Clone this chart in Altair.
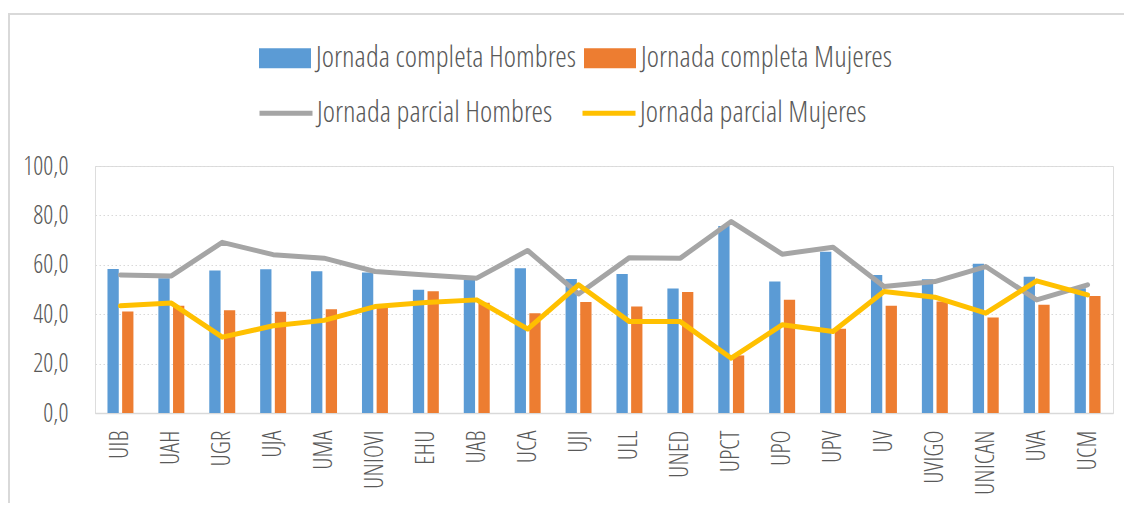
import altair as alt
import pandas as pd

universidades = ["UIB", "UAH", "UGR", "UJA", "UMA", "UNIOVI", "EHU", "UAB", "UCA", "UJI",
                 "ULL", "UNED", "UPCT", "UPO", "UPV", "UV", "UVIGO", "UNICAN", "UVA", "UCM"]
completa_hombres = [58.3, 54.6, 57.7, 58.2, 57.4, 56.9, 49.9, 53.9, 58.6, 54.3,
                    56.3, 50.4, 75.7, 53.2, 65.3, 55.9, 54.2, 60.4, 55.2, 50.5]
completa_mujeres = [41.1, 43.4, 41.6, 41.0, 42.0, 42.5, 49.3, 44.6, 40.4, 44.9,
                    43.1, 49.0, 23.3, 45.9, 34.1, 43.4, 45.1, 38.7, 43.8, 47.4]
parcial_hombres = [55.9, 55.5, 69.1, 64.1, 62.7, 57.3, 55.9, 54.6, 65.8, 48.2,
                   62.9, 62.7, 77.5, 64.3, 67.1, 51.2, 53.2, 59.3, 45.8, 51.9]
parcial_mujeres = [43.4, 44.5, 30.7, 35.3, 37.5, 43.1, 44.7, 45.8, 34.0, 51.9,
                   37.0, 37.0, 22.2, 35.7, 33.0, 49.2, 46.9, 40.4, 53.5, 47.8]

series_barras = ["Jornada completa Hombres", "Jornada completa Mujeres"]
series_lineas = ["Jornada parcial Hombres", "Jornada parcial Mujeres"]
colores_barras = ["#5b9bd5", "#ed7d31"]
colores_lineas = ["#a5a5a5", "#ffc000"]

FONT = "Open Sans Condensed Light, Liberation Sans Narrow, DejaVu Sans Condensed, Open Sans"
TXT = "#595959"
W = 300

rows = []
for serie, vals in zip(series_barras + series_lineas,
                       [completa_hombres, completa_mujeres, parcial_hombres, parcial_mujeres]):
    for u, v in zip(universidades, vals):
        rows.append({"uni": u, "serie": serie, "valor": v})
df = pd.DataFrame(rows)

x_enc = alt.X("uni:N", sort=universidades, title=None,
              scale=alt.Scale(paddingInner=0.49, paddingOuter=0.245),
              axis=alt.Axis(labelAngle=-90, labelFont=FONT, labelFontSize=25, labelColor=TXT,
                            labelFontWeight=W,
                            ticks=False, labelPadding=17, domainColor="#d9d9d9", domainWidth=1.5,
                            grid=False))
y_enc = alt.Y("valor:Q", title=None,
              scale=alt.Scale(domain=[0, 100], nice=False),
              axis=alt.Axis(values=[0, 20, 40, 60, 80, 100],
                            labelExpr="replace(format(datum.value, '.1f'), '.', ',')",
                            labelFont=FONT, labelFontSize=25, labelColor=TXT,
                            labelFontWeight=W,
                            ticks=False, labelPadding=27, domain=False,
                            grid=True, gridColor="#d9d9d9", gridDash=[1.5, 2.5], gridWidth=1))

base = alt.Chart(df)

barras = base.transform_filter(
    alt.FieldOneOfPredicate(field="serie", oneOf=series_barras)
).mark_bar().encode(
    x=x_enc,
    xOffset=alt.XOffset("serie:N", sort=series_barras, scale=alt.Scale(paddingInner=0.23)),
    y=y_enc,
    color=alt.Color("serie:N", sort=series_barras,
                    scale=alt.Scale(domain=series_barras, range=colores_barras),
                    legend=alt.Legend(title=None, orient="none", legendX=164, legendY=-134,
                                      direction="horizontal", columnPadding=7,
                                      symbolType="M-1,-0.38H1V0.38H-1Z", symbolSize=2704,
                                      symbolStrokeWidth=0, labelFont=FONT, labelFontSize=29.5,
                                      labelFontWeight=W, labelLimit=400,
                                      labelColor=TXT, labelOffset=5)),
)

lineas = base.transform_filter(
    alt.FieldOneOfPredicate(field="serie", oneOf=series_lineas)
).mark_line(strokeWidth=5, strokeJoin="round", strokeCap="round").encode(
    x=alt.X("uni:N", sort=universidades),
    y=alt.Y("valor:Q"),
    detail="serie:N",
    stroke=alt.Stroke("serie:N", sort=series_lineas,
                      scale=alt.Scale(domain=series_lineas, range=colores_lineas),
                      legend=alt.Legend(title=None, orient="none", legendX=162, legendY=-82,
                                        direction="horizontal", columnPadding=19,
                                        symbolType="stroke", symbolSize=2809,
                                        symbolStrokeWidth=5, labelFont=FONT, labelFontSize=29.5,
                                        labelFontWeight=W, labelLimit=400,
                                        labelColor=TXT, labelOffset=2)),
)

borde = alt.Chart(pd.DataFrame({"b": [0]})).mark_rect(
    filled=False, stroke="#d9d9d9", strokeWidth=2
).encode(x=alt.value(-86), x2=alt.value(1300), y=alt.value(-152), y2=alt.value(700))

chart = alt.layer(borde, barras, lineas).resolve_legend(color="independent").properties(
    width=1018, height=247,
    padding={"left": 87, "top": 158, "right": 11, "bottom": 90},
    autosize=alt.AutoSizeParams(type="none"),
).configure_view(stroke=None).configure(background="white")

chart.save("out.html", embed_options={"renderer": "svg", "actions": False})
